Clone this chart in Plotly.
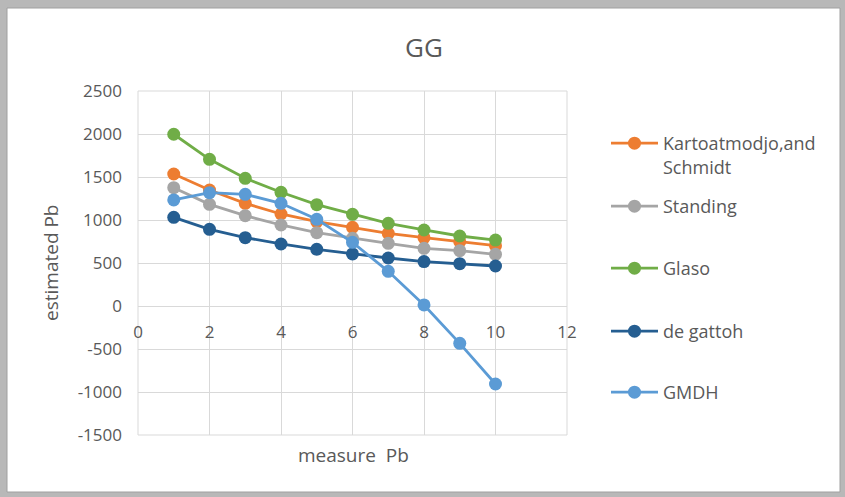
import plotly.graph_objects as go

# measured Pb index and estimated Pb per correlation
measure = [1, 2, 3, 4, 5, 6, 7, 8, 9, 10]
kartoatmodjo = [1535, 1349, 1194, 1070, 980, 915, 845, 795, 748, 701]
standing = [1376, 1182, 1050, 942, 853, 787, 729, 671, 643, 601]
glaso = [1997, 1706, 1485, 1322, 1178, 1066, 961, 884, 814, 767]
de_gattoh = [1031, 892, 795, 721, 659, 605, 558, 516, 492, 465]
gmdh = [1233, 1318, 1298, 1194, 1008, 740, 403, 12, -434, -907]

series_names = ["Kartoatmodjo,and<br>Schmidt", "Standing", "Glaso", "de gattoh", "GMDH"]
series_values = [kartoatmodjo, standing, glaso, de_gattoh, gmdh]
series_colors = ["#ED7D31", "#A5A5A5", "#70AD47", "#255E91", "#5B9BD5"]

x_ticks = [0, 2, 4, 6, 8, 10, 12]
y_ticks = [-1500, -1000, -500, 0, 500, 1000, 1500, 2000, 2500]

W, H = 845, 497
L, R, T, B = 138, 278, 91, 62
pw, ph = W - L - R, H - T - B


def px_x(v):
    return (v - L) / pw


def px_y(v):
    return (H - B - v) / ph


FONT = "Open Sans"
TXT = "#595959"
GRID = "#D9D9D9"

fig = go.Figure()

legend_names = ["legend", "legend2", "legend3", "legend4", "legend5"]
legend_rows = [143, 206, 268, 331, 392]

for name, vals, col, lg in zip(series_names, series_values, series_colors, legend_names):
    fig.add_trace(go.Scatter(
        x=measure, y=vals, name=name, mode="lines+markers",
        line=dict(color=col, width=2.8),
        marker=dict(color=col, size=13),
        legend=lg,
    ))

layout_legends = {}
for lg, row in zip(legend_names, legend_rows):
    layout_legends[lg] = dict(
        x=px_x(606), xanchor="left",
        y=px_y(row - 18), yanchor="top",
        bgcolor="rgba(0,0,0,0)", borderwidth=0,
        font=dict(family=FONT, size=18, color=TXT),
        valign="top", itemwidth=47,
    )

fig.update_layout(
    width=W, height=H,
    margin=dict(l=L, r=R, t=T, b=B, pad=0),
    paper_bgcolor="#B8B8B8",
    plot_bgcolor="rgba(0,0,0,0)",
    showlegend=True,
    **layout_legends,
    xaxis=dict(
        range=[0, 12], tickvals=x_ticks, ticktext=[str(v) for v in x_ticks],
        showgrid=True, gridcolor=GRID, gridwidth=1,
        zeroline=False, showline=False, ticks="",
        anchor="free", position=px_y(306),
        ticklabelstandoff=14,
        tickfont=dict(family=FONT, size=17, color=TXT),
    ),
    yaxis=dict(
        range=[-1500, 2500], tickvals=y_ticks, ticktext=[str(v) for v in y_ticks],
        showgrid=True, gridcolor=GRID, gridwidth=1,
        zeroline=True, zerolinecolor=GRID, zerolinewidth=1,
        showline=False, ticks="", ticklabelstandoff=15,
        tickfont=dict(family=FONT, size=17, color=TXT),
    ),
    shapes=[
        # chart card
        dict(type="rect", xref="paper", yref="paper",
             x0=px_x(7), x1=px_x(840), y0=px_y(492), y1=px_y(8),
             fillcolor="white", line=dict(color="#A0A0A0", width=1), layer="below"),
        # plot-area frame
        dict(type="rect", xref="x domain", yref="y domain",
             x0=0, x1=1, y0=0, y1=1,
             line=dict(color=GRID, width=1), layer="below"),
    ],
    annotations=[
        dict(text="GG", x=px_x(424), y=px_y(47), xref="paper", yref="paper",
             showarrow=False, xanchor="center", yanchor="middle",
             font=dict(family=FONT, size=26, color=TXT)),
        dict(text="measure  Pb", x=px_x(353), y=px_y(455), xref="paper", yref="paper",
             showarrow=False, xanchor="center", yanchor="middle",
             font=dict(family=FONT, size=19, color=TXT)),
        dict(text="estimated Pb", x=px_x(51), y=px_y(263), xref="paper", yref="paper",
             showarrow=False, xanchor="center", yanchor="middle", textangle=-90,
             font=dict(family=FONT, size=19, color=TXT)),
    ],
)

fig.write_html("out.html")
